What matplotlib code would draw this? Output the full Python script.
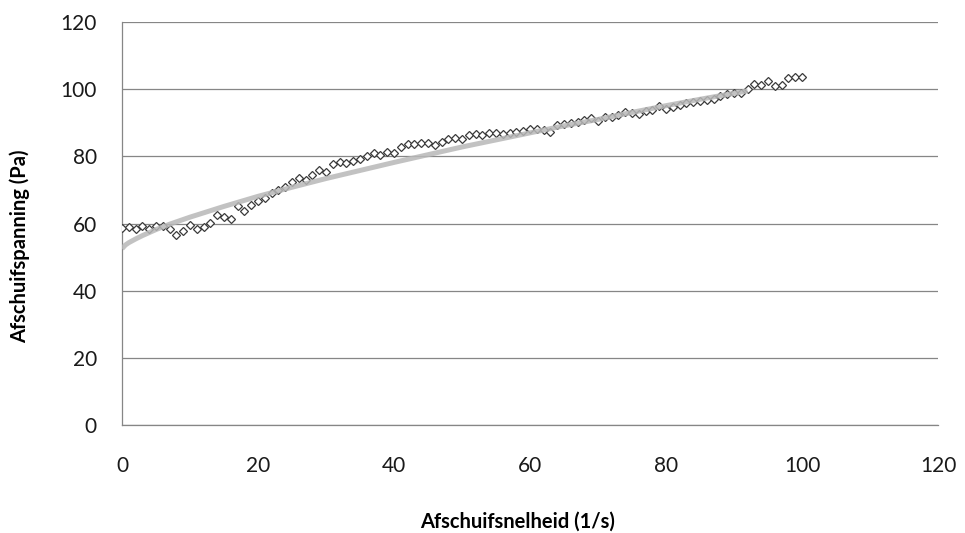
import matplotlib.pyplot as plt

# gemeten schuifspanning per afschuifsnelheid
shear_rate = list(range(0, 101))
shear_stress = [
    58.6, 59.0, 58.3, 59.2, 58.3, 59.4, 59.2, 58.5, 56.5, 57.9,
    59.6, 58.3, 58.9, 60.2, 62.5, 61.8, 61.5, 65.2, 63.8, 65.5,
    66.8, 67.6, 69.2, 70.0, 71.0, 72.5, 73.7, 73.0, 74.4, 75.9,
    75.4, 77.7, 78.4, 78.1, 78.7, 79.1, 80.1, 80.9, 80.4, 81.4,
    81.1, 82.9, 83.7, 83.8, 84.1, 83.9, 83.4, 84.4, 85.1, 85.4,
    85.1, 86.4, 86.7, 86.4, 87.1, 86.9, 86.7, 86.9, 87.4, 87.7,
    88.1, 88.1, 87.9, 87.4, 89.3, 89.7, 90.0, 90.3, 90.8, 91.3,
    90.6, 91.8, 91.6, 92.3, 93.3, 92.8, 92.6, 93.6, 93.8, 95.0,
    94.0, 94.8, 95.3, 95.8, 96.3, 96.4, 96.9, 97.2, 98.0, 98.6,
    99.0, 98.8, 100.0, 101.5, 101.2, 102.5, 101.0, 101.2, 103.3, 103.5,
    103.5,
]

# trendlijn (model)
fit_rate = [0, 0.5, 1, 2, 3, 5, 7, 10, 15, 20, 25, 30, 35, 40, 45,
            50, 55, 60, 65, 70, 75, 80, 85, 92]
fit_stress = [52.5, 53.6, 54.3, 55.4, 56.4, 58.2, 59.8, 61.9, 65.1, 68.1,
              70.8, 73.4, 75.8, 78.2, 80.5, 82.8, 84.9, 87.0, 89.1, 91.0,
              93.1, 95.1, 97.0, 99.5]

x_ticks = [0, 20, 40, 60, 80, 100, 120]
y_ticks = [0, 20, 40, 60, 80, 100, 120]

fig = plt.figure(figsize=(9.65, 5.33), dpi=100)
ax = fig.add_axes([0.1264, 0.2026, 0.8456, 0.756])

ax.plot(shear_rate, shear_stress, linestyle='none', marker='D', markersize=4.2,
        markerfacecolor='white', markeredgecolor='#3a3a3a', markeredgewidth=0.9,
        zorder=3)
ax.plot(fit_rate, fit_stress, color='#b8b8b8', linewidth=3.6, alpha=0.85,
        solid_capstyle='butt', zorder=4)

ax.set_xlim(0, 120)
ax.set_ylim(0, 120)
ax.set_xticks(x_ticks)
ax.set_yticks(y_ticks)
ax.yaxis.grid(True, color='#868686', linewidth=0.9)
ax.set_axisbelow(True)

for side in ['top', 'right']:
    ax.spines[side].set_visible(False)
for side in ['left', 'bottom']:
    ax.spines[side].set_color('#868686')
    ax.spines[side].set_linewidth(0.9)

ax.tick_params(axis='both', length=0, labelsize=15, colors='#1a1a1a')
ax.tick_params(axis='x', pad=22)
ax.tick_params(axis='y', pad=18)
for lbl in ax.get_xticklabels() + ax.get_yticklabels():
    lbl.set_family('Lato')

ax.set_xlabel('Afschuifsnelheid (1/s)', fontsize=14.5, fontweight='bold',
              family='Lato')
ax.set_ylabel('Afschuifspanning (Pa)', fontsize=14.5, fontweight='bold',
              family='Lato')
ax.xaxis.set_label_coords(0.485, -0.215)
ax.yaxis.set_label_coords(-0.112, 0.444)

fig.savefig('out.png', dpi=100)
